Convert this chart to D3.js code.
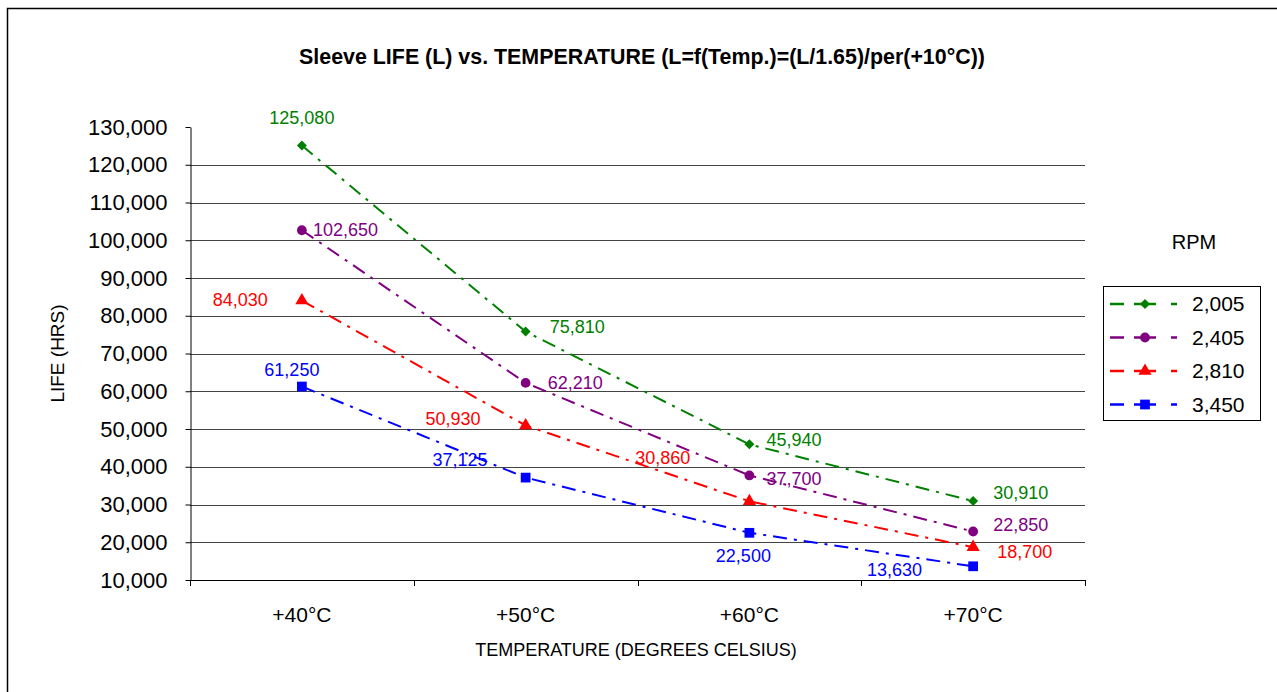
<!DOCTYPE html>
<html lang="en">
<head>
	<meta charset="UTF-8">
	<title>Sleeve LIFE vs. TEMPERATURE</title>
	<script type="text/javascript" src="https://cdn.jsdelivr.net/npm/d3@7"></script>
</head>
<style>
	body { margin: 0; background: #fff; }
	text { font-family: "Liberation Sans", Arial, sans-serif; }
</style>
<body>
	<script type="text/javascript">
		var width = 1277;
		var height = 692;

		// data
		var temps = ["+40°C", "+50°C", "+60°C", "+70°C"];
		var rpms = ["2,005", "2,405", "2,810", "3,450"];
		var life2005 = [125080, 75810, 45940, 30910];
		var life2405 = [102650, 62210, 37700, 22850];
		var life2810 = [84030, 50930, 30860, 18700];
		var life3450 = [61250, 37125, 22500, 13630];
		var yTicks = [10000, 20000, 30000, 40000, 50000, 60000, 70000, 80000, 90000, 100000, 110000, 120000, 130000];

		var colors = ["#008000", "#800080", "#ff0000", "#0000ff"];
		var symbols = [d3.symbolSquare, d3.symbolCircle, d3.symbolTriangle, d3.symbolSquare];
		var symSizes = [50, 75, 75, 95];
		var symRotate = [45, 0, 0, 0];

		// where each data label sits relative to its point [dx, dy, anchor]
		var labelPlace = [
			[[0, -22, "middle"], [24, 1, "start"], [17, 2, "start"], [20, -2, "start"]],
			[[11, 6, "start"], [22, 6, "start"], [17, 10, "start"], [20, 0, "start"]],
			[[-34, 5, "end"], [-45, 0, "end"], [-59, -37, "end"], [24, 11, "start"]],
			[[-10, -11, "middle"], [-38, -12, "end"], [-6, 29, "middle"], [-51, 10, "end"]]
		];

		var series = [life2005, life2405, life2810, life3450].map(function(vals, i){
			return { name: rpms[i], values: vals, color: colors[i], symbol: symbols[i], size: symSizes[i], rot: symRotate[i] };
		});

		var svg = d3.select('body')
					.append('svg')
					.attr('width', width)
					.attr('height', height);

		// outer chart border
		svg.append('rect')
		   .attr('x', 7.5).attr('y', 8.5)
		   .attr('width', 1290).attr('height', 700)
		   .attr('fill', 'none')
		   .attr('stroke', '#000')
		   .attr('stroke-width', 1.5);

		var pLeft = 190, pRight = 1085, pTop = 127, pBottom = 580;

		var x = d3.scaleBand().domain(temps).range([pLeft, pRight]);
		var y = d3.scaleLinear().domain([10000, 130000]).range([pBottom, pTop]);

		// gridlines
		svg.append('g')
		   .selectAll('line')
		   .data(yTicks.slice(1, -1))
		   .enter()
		   .append('line')
		   .attr('x1', pLeft).attr('x2', pRight)
		   .attr('y1', function(d){ return Math.round(y(d)) + 0.5; })
		   .attr('y2', function(d){ return Math.round(y(d)) + 0.5; })
		   .attr('stroke', '#444')
		   .attr('stroke-width', 1);

		// y axis
		var yAxis = svg.append('g')
		   .attr('transform', 'translate(' + (pLeft + 0.5) + ',0)')
		   .call(d3.axisLeft(y).tickValues(yTicks).tickFormat(d3.format(',')).tickSizeInner(5).tickSizeOuter(0).tickPadding(18));
		yAxis.selectAll('text').attr('font-size', 22).attr('fill', '#000').attr('font-family', '"Liberation Sans", Arial, sans-serif');
		yAxis.selectAll('line, path').attr('stroke', '#000');

		// x axis: ticks on category boundaries
		svg.append('line')
		   .attr('x1', pLeft).attr('x2', pRight)
		   .attr('y1', pBottom + 0.5).attr('y2', pBottom + 0.5)
		   .attr('stroke', '#000');
		var bounds = temps.map(function(t){ return x(t); }).concat([x(temps[temps.length - 1]) + x.bandwidth()]);
		svg.append('g')
		   .selectAll('line')
		   .data(bounds)
		   .enter()
		   .append('line')
		   .attr('x1', function(d){ return Math.round(d) + 0.5; })
		   .attr('x2', function(d){ return Math.round(d) + 0.5; })
		   .attr('y1', pBottom).attr('y2', pBottom + 6)
		   .attr('stroke', '#000');
		svg.append('g')
		   .selectAll('text')
		   .data(temps)
		   .enter()
		   .append('text')
		   .attr('x', function(d){ return x(d) + x.bandwidth() / 2; })
		   .attr('y', 622)
		   .attr('text-anchor', 'middle')
		   .attr('font-size', 21)
		   .text(function(d){ return d; });

		// titles
		svg.append('text')
		   .attr('x', 642).attr('y', 64)
		   .attr('text-anchor', 'middle')
		   .attr('font-size', 21.4)
		   .attr('font-weight', 'bold')
		   .text('Sleeve LIFE (L) vs. TEMPERATURE (L=f(Temp.)=(L/1.65)/per(+10°C))');

		svg.append('text')
		   .attr('x', 636).attr('y', 656)
		   .attr('text-anchor', 'middle')
		   .attr('font-size', 18)
		   .text('TEMPERATURE (DEGREES CELSIUS)');

		svg.append('text')
		   .attr('transform', 'translate(64,' + ((pTop + pBottom) / 2) + ') rotate(-90)')
		   .attr('text-anchor', 'middle')
		   .attr('font-size', 19)
		   .text('LIFE (HRS)');

		var cx = function(i){ return x(temps[i]) + x.bandwidth() / 2; };
		var line = d3.line()
					 .x(function(d, i){ return cx(i); })
					 .y(function(d){ return y(d); });

		// series lines, markers and labels
		series.forEach(function(s, si){
			var g = svg.append('g');
			g.append('path')
			 .attr('d', line(s.values))
			 .attr('fill', 'none')
			 .attr('stroke', s.color)
			 .attr('stroke-width', 2)
			 .attr('stroke-dasharray', '14,7,3,7');

			g.selectAll('path.mark')
			 .data(s.values)
			 .enter()
			 .append('path')
			 .attr('class', 'mark')
			 .attr('d', d3.symbol().type(s.symbol).size(s.size))
			 .attr('transform', function(d, i){ return 'translate(' + cx(i) + ',' + y(d) + ') rotate(' + s.rot + ')'; })
			 .attr('fill', s.color);

			g.selectAll('text')
			 .data(s.values)
			 .enter()
			 .append('text')
			 .attr('x', function(d, i){ return cx(i) + labelPlace[si][i][0]; })
			 .attr('y', function(d, i){ return y(d) + labelPlace[si][i][1]; })
			 .attr('text-anchor', function(d, i){ return labelPlace[si][i][2]; })
			 .attr('font-size', 18)
			 .attr('fill', s.color)
			 .text(function(d){ return d3.format(',')(d); });
		});

		// legend
		svg.append('text')
		   .attr('x', 1194).attr('y', 249)
		   .attr('text-anchor', 'middle')
		   .attr('font-size', 20)
		   .text('RPM');

		svg.append('rect')
		   .attr('x', 1103.5).attr('y', 286.5)
		   .attr('width', 157).attr('height', 134)
		   .attr('fill', '#fff')
		   .attr('stroke', '#000');

		var leg = svg.selectAll('g.legend')
					 .data(series)
					 .enter()
					 .append('g')
					 .attr('class', 'legend')
					 .attr('transform', function(d, i){ return 'translate(0,' + (304 + i * 33.5) + ')'; });
		leg.append('line')
		   .attr('x1', 1110).attr('x2', 1178)
		   .attr('stroke', function(d){ return d.color; })
		   .attr('stroke-width', 2.5)
		   .attr('stroke-dasharray', '14,10,22,15,6');
		leg.append('path')
		   .attr('d', function(d){ return d3.symbol().type(d.symbol).size(d.size)(); })
		   .attr('transform', function(d){ return 'translate(1145,0) rotate(' + d.rot + ')'; })
		   .attr('fill', function(d){ return d.color; });
		leg.append('text')
		   .attr('x', 1192).attr('y', 7)
		   .attr('font-size', 21)
		   .text(function(d){ return d.name; });
	</script>
</body>
</html>
